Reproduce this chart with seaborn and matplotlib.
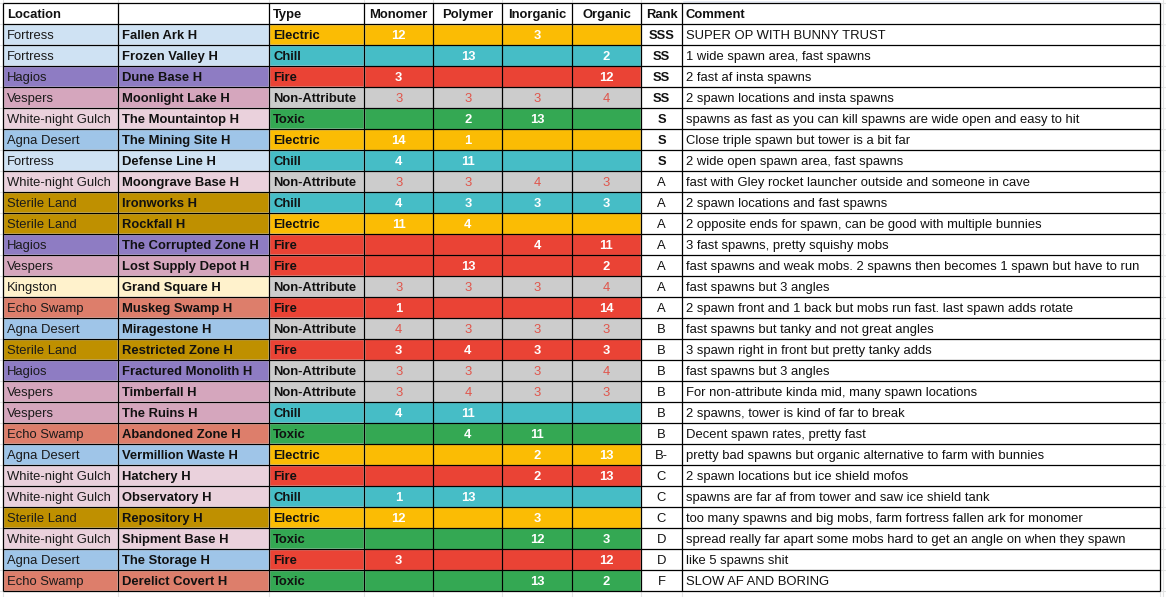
from matplotlib.colors import ListedColormap
import matplotlib.pyplot as plt
import numpy as np
import seaborn as sns

sns.set_theme(style='white')
plt.rcParams['font.family'] = ['Liberation Sans', 'DejaVu Sans']

HEADERS = ['Location', '', 'Type', 'Monomer', 'Polymer', 'Inorganic', 'Organic', 'Rank', 'Comment']

locations = ['Fortress', 'Fortress', 'Hagios', 'Vespers', 'White-night Gulch', 'Agna Desert', 'Fortress',
             'White-night Gulch', 'Sterile Land', 'Sterile Land', 'Hagios', 'Vespers', 'Kingston', 'Echo Swamp',
             'Agna Desert', 'Sterile Land', 'Hagios', 'Vespers', 'Vespers', 'Echo Swamp', 'Agna Desert',
             'White-night Gulch', 'White-night Gulch', 'Sterile Land', 'White-night Gulch', 'Agna Desert', 'Echo Swamp']
maps = ['Fallen Ark H', 'Frozen Valley H', 'Dune Base H', 'Moonlight Lake H', 'The Mountaintop H',
        'The Mining Site H', 'Defense Line H', 'Moongrave Base H', 'Ironworks H', 'Rockfall H',
        'The Corrupted Zone H', 'Lost Supply Depot H', 'Grand Square H', 'Muskeg Swamp H', 'Miragestone H',
        'Restricted Zone H', 'Fractured Monolith H', 'Timberfall H', 'The Ruins H', 'Abandoned Zone H',
        'Vermillion Waste H', 'Hatchery H', 'Observatory H', 'Repository H', 'Shipment Base H',
        'The Storage H', 'Derelict Covert H']
types = ['Electric', 'Chill', 'Fire', 'Non-Attribute', 'Toxic', 'Electric', 'Chill', 'Non-Attribute', 'Chill',
         'Electric', 'Fire', 'Fire', 'Non-Attribute', 'Fire', 'Non-Attribute', 'Fire', 'Non-Attribute',
         'Non-Attribute', 'Chill', 'Toxic', 'Electric', 'Fire', 'Chill', 'Electric', 'Toxic', 'Fire', 'Toxic']
monomer = [12, None, 3, 3, None, 14, 4, 3, 4, 11, None, None, 3, 1, 4, 3, 3, 3, 4, None, None, None, 1, 12, None, 3, None]
polymer = [None, 13, None, 3, 2, 1, 11, 3, 3, 4, None, 13, 3, None, 3, 4, 3, 4, 11, 4, None, None, 13, None, None, None, None]
inorganic = [3, None, None, 3, 13, None, None, 4, 3, None, 4, None, 3, None, 3, 3, 3, 3, None, 11, 2, 2, None, 3, 12, None, 13]
organic = [None, 2, 12, 4, None, None, None, 3, 3, None, 11, 2, 4, 14, 3, 3, 4, 3, None, None, 13, 13, None, None, 3, 12, 2]
ranks = ['SSS', 'SS', 'SS', 'SS', 'S', 'S', 'S', 'A', 'A', 'A', 'A', 'A', 'A', 'A', 'B', 'B', 'B', 'B', 'B', 'B',
         'B-', 'C', 'C', 'C', 'D', 'D', 'F']
comments = [
    'SUPER OP WITH BUNNY TRUST',
    '1 wide spawn area, fast spawns',
    '2 fast af insta spawns',
    '2 spawn locations and insta spawns',
    'spawns as fast as you can kill spawns are wide open and easy to hit',
    'Close triple spawn but tower is a bit far',
    '2 wide open spawn area, fast spawns',
    'fast with Gley rocket launcher outside and someone in cave',
    '2 spawn locations and fast spawns',
    '2 opposite ends for spawn, can be good with multiple bunnies',
    '3 fast spawns, pretty squishy mobs',
    'fast spawns and weak mobs. 2 spawns then becomes 1 spawn but have to run',
    'fast spawns but 3 angles',
    '2 spawn front and 1 back but mobs run fast. last spawn adds rotate',
    'fast spawns but tanky and not great angles',
    '3 spawn right in front but pretty tanky adds',
    'fast spawns but 3 angles',
    'For non-attribute kinda mid, many spawn locations',
    '2 spawns, tower is kind of far to break',
    'Decent spawn rates, pretty fast',
    'pretty bad spawns but organic alternative to farm with bunnies',
    '2 spawn locations but ice shield mofos',
    'spawns are far af from tower and saw ice shield tank',
    'too many spawns and big mobs, farm fortress fallen ark for monomer',
    'spread really far apart some mobs hard to get an angle on when they spawn',
    'like 5 spawns shit',
    'SLOW AF AND BORING',
]

TYPE_PALETTE = {'Electric': '#fbbc04', 'Chill': '#46bdc6', 'Fire': '#ea4335',
                'Non-Attribute': '#cccccc', 'Toxic': '#34a853'}
LOCATION_PALETTE = {'Fortress': '#cfe2f3', 'Hagios': '#8e7cc3', 'Vespers': '#d5a6bd',
                    'White-night Gulch': '#ead1dc', 'Agna Desert': '#9fc5e8', 'Sterile Land': '#bf9000',
                    'Kingston': '#fff2cc', 'Echo Swamp': '#dd7e6b'}

# pixel layout of the sheet
W, H = 1166, 597
COL_EDGES = [3, 118, 269, 364, 433, 502, 572, 641, 682, 1160]
TOP, ROW_H = 3, 21
FS = 9.4
BASE = 4.6 / ROW_H  # baseline offset below the row centre, in row units

n = len(maps)
fig = plt.figure(figsize=(W / 100, H / 100), dpi=100)
ax = fig.add_axes([0, 0, 1, 1])
ax.set_xlim(0, W)
ax.set_ylim(n + 0.5 + (H - TOP - ROW_H * (n + 1)) / ROW_H, -0.5 - TOP / ROW_H)
ax.axis('off')

# faint spreadsheet gridlines outside the table
for x in COL_EDGES + [1163]:
    ax.axvline(x, color='#e2e3e3', lw=0.8, zorder=0)
for i in range(n + 2):
    ax.axhline(i - 0.5, color='#e2e3e3', lw=0.8, zorder=0)
ax.barh(-0.5 - 1.5 / ROW_H, COL_EDGES[-1] - COL_EDGES[-2], left=COL_EDGES[-2], height=3 / ROW_H,
        color='#e3e9f5', zorder=0.5)

rows = np.arange(1, n + 1)


def cell_text(x, r, s, ha='left', **kw):
    ax.text(x, r + BASE, s, ha=ha, va='baseline', fontsize=FS, zorder=3, **kw)


# header
ax.barh(0, COL_EDGES[-1] - COL_EDGES[0], left=COL_EDGES[0], height=1, color='white', zorder=1)
for c, h in enumerate(HEADERS):
    if c in (3, 4, 5, 6, 7):
        cell_text((COL_EDGES[c] + COL_EDGES[c + 1]) / 2, 0, h, ha='center', fontweight='bold', color='#111111')
    else:
        cell_text(COL_EDGES[c] + 4, 0, h, fontweight='bold', color='#111111')

# location / map / type columns
ax.barh(rows, COL_EDGES[1] - COL_EDGES[0], left=COL_EDGES[0], height=1,
        color=[LOCATION_PALETTE[l] for l in locations], zorder=1)
ax.barh(rows, COL_EDGES[2] - COL_EDGES[1], left=COL_EDGES[1], height=1,
        color=[LOCATION_PALETTE[l] for l in locations], zorder=1)
ax.barh(rows, COL_EDGES[3] - COL_EDGES[2], left=COL_EDGES[2], height=1,
        color=[TYPE_PALETTE[t] for t in types], zorder=1)
ax.barh(rows, COL_EDGES[-1] - COL_EDGES[7], left=COL_EDGES[7], height=1, color='white', zorder=1)

for r, loc, name, typ, rank, com in zip(rows, locations, maps, types, ranks, comments):
    cell_text(COL_EDGES[0] + 4, r, loc, color='#1a1a1a')
    cell_text(COL_EDGES[1] + 4, r, name, fontweight='bold', color='#111111')
    cell_text(COL_EDGES[2] + 4, r, typ, fontweight='bold', color='#111111')
    cell_text((COL_EDGES[7] + COL_EDGES[8]) / 2, r, rank, ha='center',
              fontweight='bold' if rank.startswith('S') else 'normal', color='#111111')
    cell_text(COL_EDGES[8] + 4, r, com, color='#111111')

# material block as a categorical heatmap
type_names = list(TYPE_PALETTE)
mats = [monomer, polymer, inorganic, organic]
codes = np.array([[type_names.index(t)] * 4 for t in types])
labels = np.array([['' if m[i] is None else str(m[i]) for m in mats] for i in range(n)])
top_px = TOP + ROW_H
hax = fig.add_axes([COL_EDGES[3] / W, 1 - (top_px + ROW_H * n) / H,
                    (COL_EDGES[7] - COL_EDGES[3]) / W, ROW_H * n / H])
sns.heatmap(codes, ax=hax, cmap=ListedColormap(list(TYPE_PALETTE.values())), vmin=-0.5, vmax=4.5,
            annot=labels, fmt='', cbar=False, xticklabels=False, yticklabels=False,
            annot_kws={'fontsize': FS, 'fontweight': 'bold'})
hax.axis('off')
for k, txt in enumerate(hax.texts):
    txt.set_va('baseline')
    txt.set_y(txt.get_position()[1] + BASE)
    if types[k // 4] == 'Non-Attribute':
        txt.set_color('#e0554b')
        txt.set_fontweight('normal')
    else:
        txt.set_color('white')

# black cell borders drawn on top
ax.set_zorder(hax.get_zorder() + 1)
ax.patch.set_visible(False)
ax.vlines(COL_EDGES, -0.5, n + 0.5, color='black', lw=0.9, zorder=4)
ax.hlines(np.arange(n + 2) - 0.5, COL_EDGES[0], COL_EDGES[-1], color='black', lw=0.9, zorder=4)

fig.savefig('out.png', dpi=100)
plt.close()
